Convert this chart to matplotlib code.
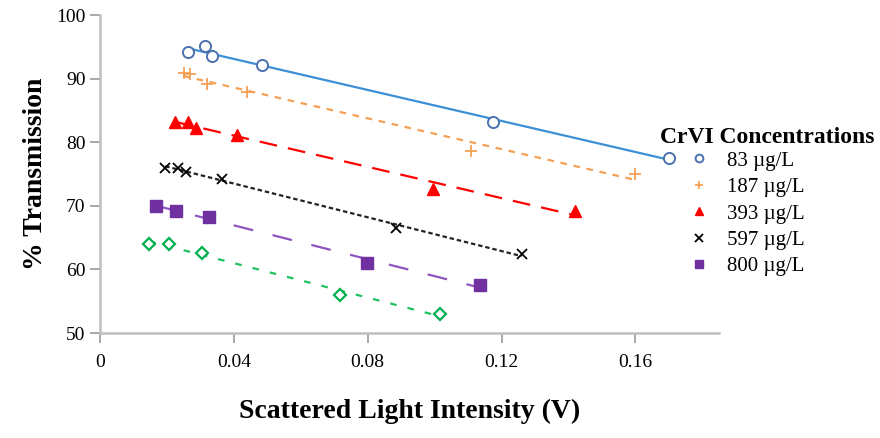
import numpy as np
import matplotlib
matplotlib.use('Agg')
import matplotlib.pyplot as plt
from matplotlib.lines import Line2D

plt.rcParams['font.family'] = ['Liberation Serif', 'DejaVu Serif']

# scattered light intensity (V) vs % transmission, per CrVI concentration
x_83 = [0.0264, 0.0315, 0.0336, 0.0485, 0.1175, 0.170]
y_83 = [94.2, 95.1, 93.6, 92.1, 83.2, 77.5]
x_187 = [0.025, 0.027, 0.032, 0.044, 0.111, 0.160]
y_187 = [90.9, 90.7, 89.2, 87.9, 78.6, 75.0]
x_393 = [0.0225, 0.0264, 0.0288, 0.0408, 0.0995, 0.142]
y_393 = [83.2, 83.2, 82.2, 81.1, 72.6, 69.2]
x_597 = [0.0195, 0.0234, 0.0258, 0.0366, 0.0886, 0.126]
y_597 = [76.0, 76.0, 75.3, 74.2, 66.5, 62.4]
x_800 = [0.0168, 0.0228, 0.0327, 0.0797, 0.1136]
y_800 = [70.0, 69.2, 68.2, 61.0, 57.5]
x_green = [0.0147, 0.0207, 0.0306, 0.0716, 0.1016]
y_green = [64.0, 64.0, 62.6, 56.0, 53.0]

labels = ['83 µg/L', '187 µg/L', '393 µg/L', '597 µg/L', '800 µg/L']

series = [
    (x_83, y_83, dict(marker='o', mfc='white', mec='#4a72b0', ms=8, mew=1.4), '#3d8fd6', '-'),
    (x_187, y_187, dict(marker='+', color='#f5a055', ms=8.5, mew=1.3), '#f5a055', (0, (3, 3))),
    (x_393, y_393, dict(marker='^', color='#ff0000', ms=8.5), '#ff0000', (0, (8, 5))),
    (x_597, y_597, dict(marker='x', color='black', ms=7.5, mew=1.3), '#222222', (0, (2, 1.3))),
    (x_800, y_800, dict(marker='s', color='#7030a0', ms=8.5), '#8e55c0', (0, (9, 9))),
    (x_green, y_green, dict(marker='D', mfc='white', mec='#00b050', ms=6, mew=1.6), '#22c060', (0, (3, 5))),
]

fig = plt.figure(figsize=(8.8, 4.38), dpi=100)
ax = fig.add_axes([100 / 880, 1 - 333 / 438, 619 / 880, 318 / 438])

for xs, ys, mk, lc, ls in series:
    xs = np.array(xs)
    ys = np.array(ys)
    k, b = np.polyfit(xs, ys, 1)
    xl = np.array([xs.min(), xs.max()])
    ax.plot(xl, k * xl + b, color=lc, linestyle=ls, linewidth=1.6, zorder=1)
    ax.plot(xs, ys, linestyle='none', zorder=2, **mk)

ax.set_xlim(0, 0.185)
ax.set_ylim(50, 100)
ax.set_xticks([0, 0.04, 0.08, 0.12, 0.16])
ax.set_xticklabels(['0', '0.04', '0.08', '0.12', '0.16'])
ax.set_yticks([50, 60, 70, 80, 90, 100])
for s in ['top', 'right']:
    ax.spines[s].set_visible(False)
for s in ['left', 'bottom']:
    ax.spines[s].set_color('#bfbfbf')
    ax.spines[s].set_linewidth(1.8)
ax.tick_params(axis='both', colors='#999999', labelcolor='black', labelsize=14, length=7, width=1.2)
ax.tick_params(axis='x', pad=8)

ax.set_ylabel('% Transmission', fontsize=20, fontweight='bold', labelpad=6)
ax.set_xlabel('Scattered Light Intensity (V)', fontsize=20, fontweight='bold', labelpad=20)

handles = [Line2D([], [], linestyle='none', **series[i][2]) for i in range(5)]
for h in handles:
    h.set_markersize(h.get_markersize() * 0.7)
fig.text(660 / 880, 1 - 137 / 438, 'CrVI Concentrations', fontsize=17, fontweight='bold', va='center', ha='left')
fig.legend(handles, labels, loc='upper left', bbox_to_anchor=(689 / 880, 1 - 151 / 438),
           frameon=False, fontsize=15, handlelength=1.0, handletextpad=0.8, labelspacing=0.33,
           borderaxespad=0, borderpad=0)

fig.savefig('out.png', dpi=100)
